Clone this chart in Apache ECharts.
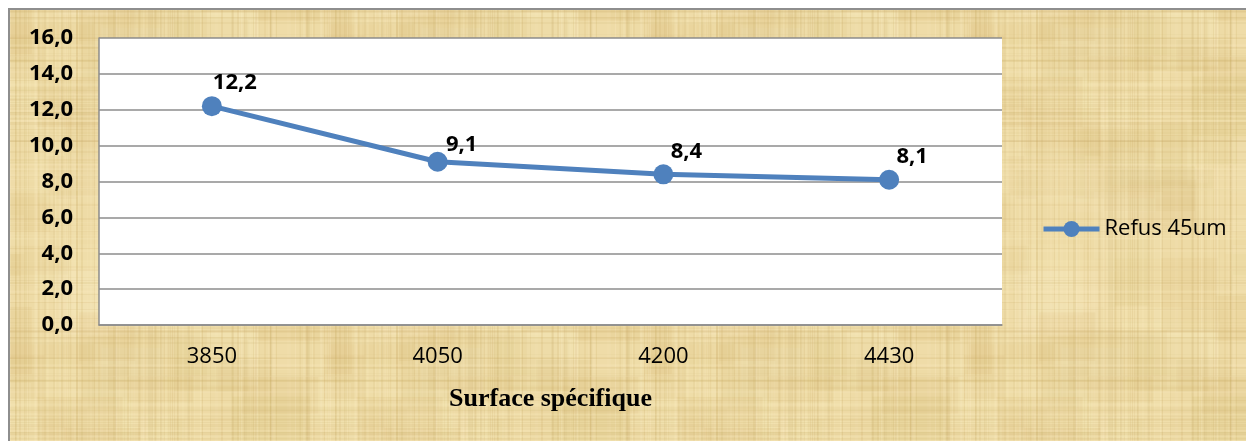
<!DOCTYPE html>
<html>
<head>
<meta charset="utf-8">
<script src="https://cdn.jsdelivr.net/npm/echarts@6/dist/echarts.min.js"></script>
<style>
  html, body { margin: 0; padding: 0; background: #ffffff; overflow: hidden; }
  #frame {
    position: absolute; left: 8px; top: 8px; width: 1260px; height: 460px;
    border: 2px solid #8e8e8e; box-sizing: border-box;
  }
  #chart { position: absolute; left: 0; top: 0; width: 1246px; height: 441px; }
</style>
</head>
<body>
<div id="frame"></div>
<div id="chart"></div>
<script>
// Fineness measurements: residue on the 45 µm sieve vs specific surface
const categories = ['3850', '4050', '4200', '4430'];
const refusValues = [12.2, 9.1, 8.4, 8.1];
const yTicks = [0, 2, 4, 6, 8, 10, 12, 14, 16];
const seriesName = 'Refus 45um';
const xTitle = 'Surface spécifique';

// Papyrus-like paper texture painted on a tiling canvas (deterministic hash noise)
function paperTexture() {
  const w = 320, h = 320;
  const c = document.createElement('canvas');
  c.width = w; c.height = h;
  const g = c.getContext('2d');
  g.fillStyle = '#eedba6';
  g.fillRect(0, 0, w, h);
  const hash = (n) => { const s = Math.sin(n * 12.9898) * 43758.5453; return s - Math.floor(s); };
  // broad patches of lighter / darker paper
  for (let i = 0; i < 60; i++) {
    const x = hash(i + 11) * w, y = hash(i + 77) * h;
    const pw = 20 + hash(i + 133) * 80, ph = 15 + hash(i + 199) * 60;
    const light = hash(i + 251) > 0.45;
    const a = 0.08 + hash(i + 307) * 0.10;
    g.fillStyle = light ? 'rgba(250,236,192,' + a + ')' : 'rgba(214,186,118,' + a + ')';
    g.fillRect(x, y, pw, ph);
    g.fillRect(x - w, y, pw, ph); g.fillRect(x, y - h, pw, ph); g.fillRect(x - w, y - h, pw, ph);
  }
  // vertical fibres
  for (let i = 0; i < 160; i++) {
    const x = Math.floor(hash(i + 1) * w);
    const a = 0.06 + hash(i + 300) * 0.12;
    const light = hash(i + 600) > 0.5;
    g.fillStyle = light ? 'rgba(252,240,200,' + a + ')' : 'rgba(200,170,100,' + a + ')';
    g.fillRect(x, 0, 1 + Math.floor(hash(i + 900) * 2), h);
  }
  // horizontal fibres
  for (let i = 0; i < 130; i++) {
    const y = Math.floor(hash(i + 1200) * h);
    const a = 0.05 + hash(i + 1500) * 0.10;
    const light = hash(i + 1800) > 0.5;
    g.fillStyle = light ? 'rgba(252,240,200,' + a + ')' : 'rgba(198,168,98,' + a + ')';
    g.fillRect(0, y, w, 1 + Math.floor(hash(i + 2100) * 2));
  }
  return c;
}
const frame = document.getElementById('frame');
frame.style.backgroundImage = 'url(' + paperTexture().toDataURL() + ')';

const fmt = (v) => v.toFixed(1).replace('.', ',');
const labelStyle = {
  show: true, position: 'top', offset: [23, 3],
  formatter: (p) => fmt(p.value),
  fontFamily: 'Open Sans', fontWeight: 'bold', fontSize: 22, color: '#000'
};
// the second value label sits a little closer to its point
const pointData = refusValues.map((v, i) => i === 1
  ? { value: v, label: { offset: [24, 9] } }
  : v);

const chart = echarts.init(document.getElementById('chart'), null, { renderer: 'canvas' });
chart.setOption({
  backgroundColor: 'transparent',
  animation: false,
  grid: {
    left: 99, top: 38, width: 903, height: 287,
    show: true, backgroundColor: '#ffffff', borderWidth: 0
  },
  legend: {
    left: 1041, top: 218, padding: 0, itemWidth: 56, itemHeight: 20, itemGap: 4,
    data: [seriesName],
    lineStyle: { width: 5 },
    textStyle: { fontFamily: 'Open Sans', fontSize: 22, color: '#000' }
  },
  xAxis: {
    type: 'category', data: categories, boundaryGap: true,
    axisLine: { show: true, lineStyle: { color: '#8c8c8c', width: 1.5 } },
    axisTick: { show: false },
    axisLabel: { fontFamily: 'Open Sans', fontSize: 22, color: '#000', margin: 21 },
    name: xTitle, nameLocation: 'middle', nameGap: 61,
    nameTextStyle: { fontFamily: 'Liberation Serif', fontWeight: 'bold', fontSize: 26, color: '#000' }
  },
  yAxis: {
    type: 'value', min: yTicks[0], max: yTicks[yTicks.length - 1], interval: 2,
    axisLine: { show: true, lineStyle: { color: '#8c8c8c', width: 1.5 } },
    axisTick: { show: false },
    axisLabel: { fontFamily: 'Open Sans', fontWeight: 'bold', fontSize: 22, color: '#000', margin: 26, formatter: fmt },
    splitLine: { lineStyle: { color: '#8c8c8c', width: 1.5 } }
  },
  series: [{
    name: seriesName, type: 'line', data: pointData,
    symbol: 'circle', symbolSize: 20,
    lineStyle: { color: '#4f81bd', width: 5 },
    itemStyle: { color: '#4f81bd' },
    label: labelStyle
  }]
});
</script>
</body>
</html>
